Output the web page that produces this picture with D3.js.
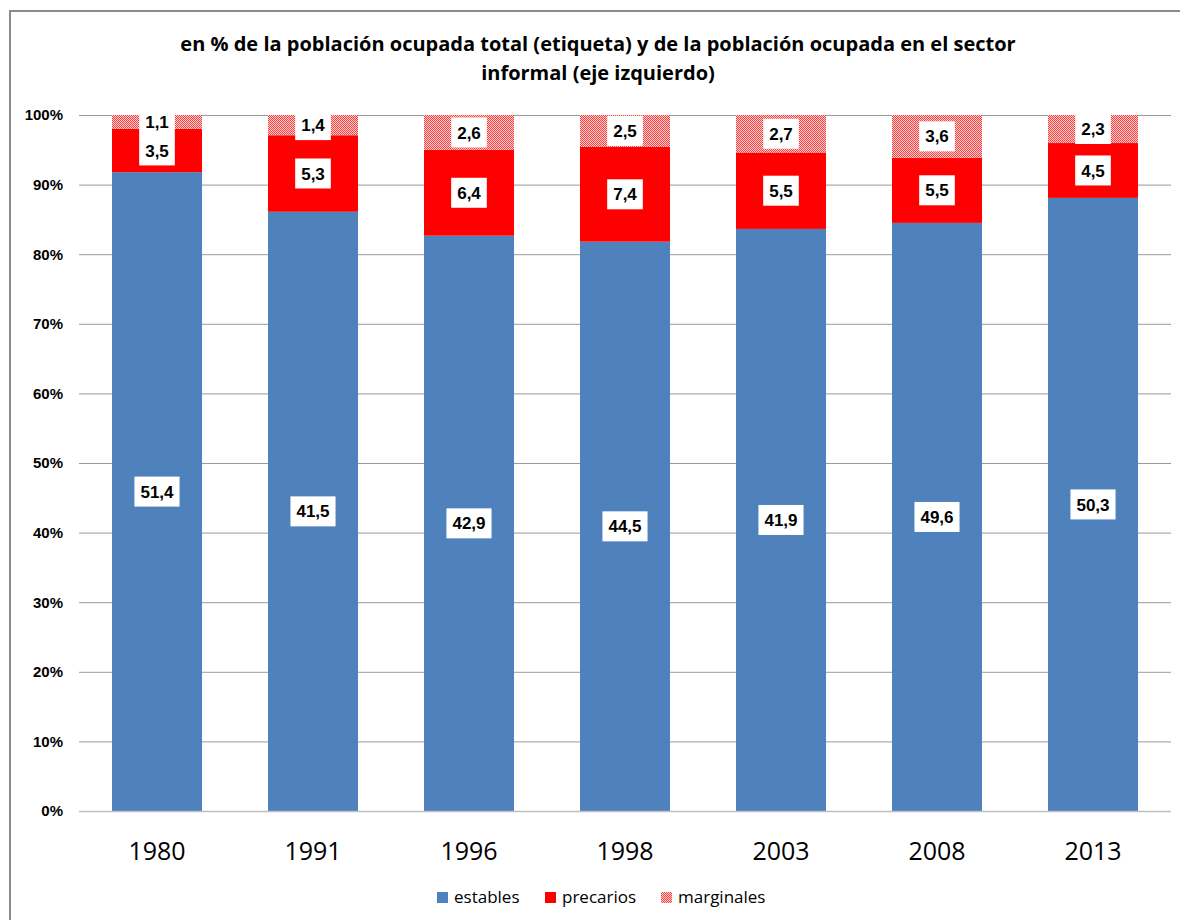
<!DOCTYPE html>
<html><head><meta charset="utf-8">
<script src="https://cdn.jsdelivr.net/npm/d3@7"></script>
<style>
body{margin:0;background:#fff;}
svg{display:block;font-family:"Open Sans",Arial,sans-serif;}
</style></head><body>
<svg id="c" width="1180" height="920"></svg>
<script>
const years = ["1980","1991","1996","1998","2003","2008","2013"];
const estables = [51.4, 41.5, 42.9, 44.5, 41.9, 49.6, 50.3];
const precarios = [3.5, 5.3, 6.4, 7.4, 5.5, 5.5, 4.5];
const marginales = [1.1, 1.4, 2.6, 2.5, 2.7, 3.6, 2.3];
const seriesNames = ["estables","precarios","marginales"];
const yTicks = [0,0.1,0.2,0.3,0.4,0.5,0.6,0.7,0.8,0.9,1.0];

const rows = years.map((y,i)=>({year:y, estables:estables[i], precarios:precarios[i], marginales:marginales[i]}));
const svg = d3.select("#c");
const defs = svg.append("defs");
const pat = defs.append("pattern").attr("id","hatch").attr("patternUnits","userSpaceOnUse").attr("width",2).attr("height",2);
pat.append("rect").attr("width",2).attr("height",2).attr("fill","#ffd0d0");
pat.append("rect").attr("width",1).attr("height",1).attr("fill","#ff4040");
pat.append("rect").attr("x",1).attr("y",1).attr("width",1).attr("height",1).attr("fill","#ff4040");
const fills = {estables:"#4F81BD", precarios:"#FF0000", marginales:"url(#hatch)"};

// frame
svg.append("rect").attr("x",10).attr("y",11).attr("width",1200).attr("height",1000)
  .attr("fill","none").attr("stroke","#8c8c8c").attr("stroke-width",2);

// title
const title = svg.append("text").attr("text-anchor","middle").attr("font-weight","bold")
  .attr("font-size",20).attr("fill","#000");
title.append("tspan").attr("x",598).attr("y",51).text("en % de la población ocupada total (etiqueta) y de la población ocupada en el sector");
title.append("tspan").attr("x",598).attr("y",80).text("informal (eje izquierdo)");

const x = d3.scaleBand().domain(years).range([79,1171]).paddingInner(0.423).paddingOuter(0.2115);
const y = d3.scaleLinear().domain([0,1]).range([811,115]);

// gridlines
svg.append("g").selectAll("line").data(yTicks.filter(t=>t>0)).join("line")
  .attr("x1",79).attr("x2",1171).attr("y1",d=>y(d)+0.5).attr("y2",d=>y(d)+0.5)
  .attr("stroke","#9a9a9a").attr("stroke-width",1);

// y axis labels
const yAxis = d3.axisLeft(y).tickValues(yTicks).tickFormat(d3.format(".0%")).tickSize(0).tickPadding(0);
const ya = svg.append("g").attr("transform","translate(63,0)").call(yAxis);
ya.select(".domain").remove();
ya.selectAll("text").attr("font-size",15).attr("font-weight","bold").attr("fill","#000")
  .attr("font-family","Liberation Sans, Arial, sans-serif");

const stack = d3.stack().keys(seriesNames).offset(d3.stackOffsetExpand);
const series = stack(rows);

const g = svg.append("g");
series.forEach(s=>{
  g.append("g").selectAll("rect").data(s).join("rect")
    .attr("x",d=>x(d.data.year)).attr("width",x.bandwidth())
    .attr("y",d=>y(d[1])).attr("height",d=>y(d[0])-y(d[1]))
    .attr("fill",fills[s.key]);
});

// x axis line
svg.append("line").attr("x1",79).attr("x2",1171).attr("y1",811.5).attr("y2",811.5)
  .attr("stroke","#bfbfbf").attr("stroke-width",1.5);

// x labels
const xAxis = d3.axisBottom(x).tickSize(0).tickPadding(0);
const xa = svg.append("g").attr("transform","translate(0,811)").call(xAxis);
xa.select(".domain").remove();
xa.selectAll("text").attr("font-size",25).attr("fill","#000").attr("dy",0).attr("y",49)
  .attr("font-family","Open Sans, Liberation Sans, Arial, sans-serif").attr("font-weight","normal");

// data labels
const fmt = v => d3.format(".1f")(v).replace(".",",");
const labG = svg.append("g");
series.forEach(s=>{
  s.forEach(d=>{
    const cx = x(d.data.year)+x.bandwidth()/2;
    const cy = (y(d[0])+y(d[1]))/2;
    const lg = labG.append("g");
    const t = lg.append("text").attr("x",cx).attr("y",cy).attr("dy","0.36em")
      .attr("text-anchor","middle").attr("font-size",17).attr("font-weight","bold")
      .attr("font-family","Liberation Sans, Arial, sans-serif").attr("fill","#000")
      .text(fmt(d.data[s.key]));
    const w = t.node().getComputedTextLength();
    lg.insert("rect","text").attr("x",cx-w/2-6).attr("y",cy-15).attr("width",w+12).attr("height",30)
      .attr("fill","#fff");
  });
});

// legend
const legItems = [{k:"estables",x:437},{k:"precarios",x:545},{k:"marginales",x:661}];
const lg = svg.append("g");
legItems.forEach(it=>{
  lg.append("rect").attr("x",it.x).attr("y",892).attr("width",11).attr("height",11).attr("fill",fills[it.k]);
  lg.append("text").attr("x",it.x+17).attr("y",903).attr("font-size",17)
    .attr("font-family","Open Sans, Liberation Sans, Arial, sans-serif").attr("fill","#000").text(it.k);
});
</script>
</body></html>
